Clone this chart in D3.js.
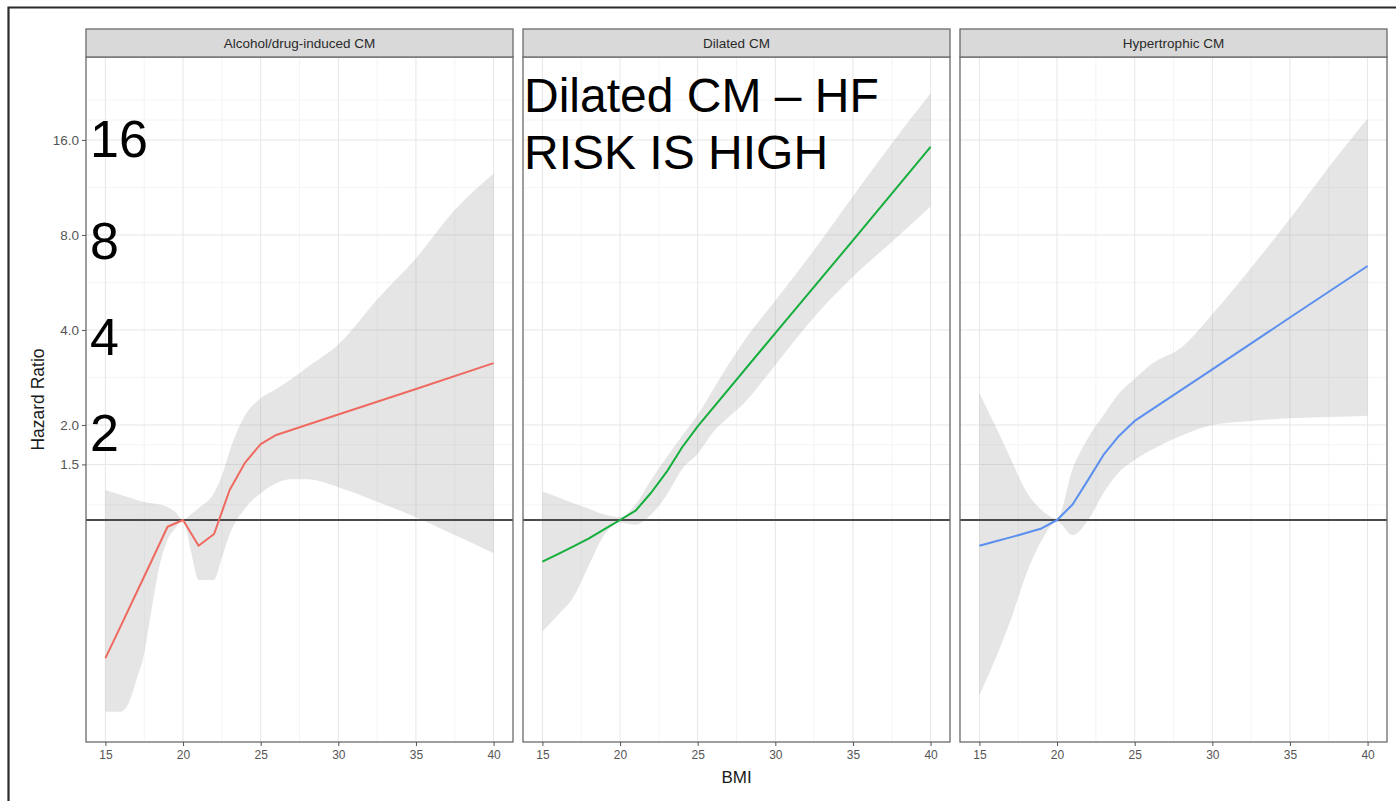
<!DOCTYPE html>
<html>
<head>
<meta charset="utf-8">
<script src="https://cdn.jsdelivr.net/npm/d3@7"></script>
<style>
  html, body { margin: 0; padding: 0; background: #fff; }
  svg { display: block; font-family: "Liberation Sans", Arial, Helvetica, sans-serif; }
</style>
</head>
<body>
<svg id="chart" width="1396" height="801"></svg>
<script>
// Facet titles and series colours
const panelTitles = ["Alcohol/drug-induced CM", "Dilated CM", "Hypertrophic CM"];
const panelColors = ["#EE6A60", "#14AE3C", "#5A8FEF"];

// Axis ticks
const bmiTicks = [15, 20, 25, 30, 35, 40];
const bmiMinorTicks = [17.5, 22.5, 27.5, 32.5, 37.5];
const hrTicks = [1.5, 2, 4, 8, 16];
const hrTickLabels = ["1.5", "2.0", "4.0", "8.0", "16.0"];
const hrMinorTicks = [1.116, 1.732, 2.83, 5.66, 11.3, 18.5, 21.4];
const hrReference = 1;

// Alcohol/drug-induced CM
const alcoholBmi = [15, 16, 17, 18, 19, 20, 21, 22, 23, 24, 25, 26, 30, 35, 40];
const alcoholHr  = [0.365, 0.463, 0.588, 0.747, 0.952, 1.0, 0.829, 0.903, 1.245, 1.52, 1.74, 1.86, 2.16, 2.6, 3.14];
const alcoholCiBmi   = [15, 16, 16.5, 17, 17.5, 18, 18.5, 19, 19.5, 20, 20.5, 21, 22, 22.5, 23, 24, 25, 26, 27, 28, 30, 32.5, 35, 37.5, 40];
const alcoholCiLower = [0.247, 0.247, 0.263, 0.311, 0.378, 0.53, 0.72, 0.864, 0.941, 1.0, 0.80, 0.646, 0.646, 0.76, 0.9, 1.09, 1.215, 1.307, 1.345, 1.345, 1.27, 1.143, 1.02, 0.896, 0.784];
const alcoholCiUpper = [1.245, 1.20, 1.18, 1.157, 1.14, 1.13, 1.12, 1.10, 1.06, 1.0, 1.04, 1.09, 1.22, 1.38, 1.65, 2.15, 2.43, 2.6, 2.8, 3.05, 3.6, 5.0, 6.75, 9.6, 12.5];

// Dilated CM
const dilatedBmi = [15, 16, 17, 18, 19, 20, 21, 22, 23, 24, 25, 30, 35, 40];
const dilatedHr  = [0.738, 0.78, 0.825, 0.875, 0.935, 1.0, 1.07, 1.22, 1.42, 1.70, 1.98, 3.91, 7.69, 15.2];
const dilatedCiBmi   = [15, 16, 17, 18, 19, 20, 21, 22, 23, 24, 25, 26, 27, 28, 30, 32.5, 35, 37.5, 40];
const dilatedCiLower = [0.443, 0.50, 0.57, 0.72, 0.9, 0.98, 0.965, 1.04, 1.2, 1.45, 1.62, 1.9, 2.12, 2.35, 3.1, 4.4, 5.9, 7.6, 9.84];
const dilatedCiUpper = [1.23, 1.18, 1.13, 1.086, 1.04, 1.02, 1.12, 1.34, 1.58, 1.85, 2.15, 2.59, 3.12, 3.7, 4.96, 7.17, 10.6, 15.6, 22.5];

// Hypertrophic CM
const hyperBmi = [15, 16, 17, 18, 19, 20, 21, 22, 23, 24, 25, 30, 35, 40];
const hyperHr  = [0.829, 0.855, 0.881, 0.909, 0.94, 1.0, 1.12, 1.34, 1.61, 1.85, 2.06, 3.0, 4.38, 6.38];
const hyperCiBmi   = [15, 16, 17, 18, 19, 20, 21, 22, 23, 24, 25, 26, 28, 30, 32.5, 35, 37.5, 40];
const hyperCiLower = [0.279, 0.36, 0.48, 0.67, 0.86, 0.99, 0.896, 1.0, 1.22, 1.42, 1.55, 1.66, 1.85, 2.0, 2.06, 2.1, 2.12, 2.14];
const hyperCiUpper = [2.52, 2.0, 1.57, 1.235, 1.076, 1.01, 1.45, 1.82, 2.15, 2.52, 2.8, 3.1, 3.52, 4.49, 6.3, 9.0, 13.1, 18.7];

// Overlay annotations
const hrCallouts = ["16", "8", "4", "2"];
const headline = ["Dilated CM \u2013 HF", "RISK IS HIGH"];

const series = [
  { bmi: alcoholBmi, hr: alcoholHr, ciBmi: alcoholCiBmi, lo: alcoholCiLower, hi: alcoholCiUpper },
  { bmi: dilatedBmi, hr: dilatedHr, ciBmi: dilatedCiBmi, lo: dilatedCiLower, hi: dilatedCiUpper },
  { bmi: hyperBmi,   hr: hyperHr,   ciBmi: hyperCiBmi,   lo: hyperCiLower,   hi: hyperCiUpper }
];

// Layout
const svg = d3.select("#chart");
const panelLeft = 86, panelW = 427, panelGap = 10;
const stripTop = 29, stripH = 28;
const panelTop = stripTop + stripH, panelBottom = 742;
const calloutShift = [17, 24, 25, 26];   // baseline drop below each tick

const x = d3.scaleLinear().domain([13.75, 41.25]);
const y = d3.scaleLog().base(2).domain([0.198, 29.3]).range([panelBottom, panelTop]);

// Outer frame
svg.append("path")
  .attr("d", "M8.5,801 L8.5,7.5 L1396,7.5")
  .attr("fill", "none").attr("stroke", "#2b2b2b").attr("stroke-width", 2.2);

const defs = svg.append("defs");

series.forEach((s, i) => {
  const x0 = panelLeft + i * (panelW + panelGap);
  const xs = x.copy().range([x0, x0 + panelW]);
  const g = svg.append("g");

  defs.append("clipPath").attr("id", "clip" + i)
    .append("rect").attr("x", x0).attr("y", panelTop).attr("width", panelW).attr("height", panelBottom - panelTop);

  // grid
  const grid = g.append("g");
  grid.selectAll(".vmin").data(bmiMinorTicks).join("line")
    .attr("x1", d => xs(d)).attr("x2", d => xs(d)).attr("y1", panelTop).attr("y2", panelBottom)
    .attr("stroke", "#f1f1f1").attr("stroke-width", 0.8);
  grid.selectAll(".hmin").data(hrMinorTicks).join("line")
    .attr("x1", x0).attr("x2", x0 + panelW).attr("y1", d => y(d)).attr("y2", d => y(d))
    .attr("stroke", "#f1f1f1").attr("stroke-width", 0.8);
  grid.selectAll(".vmaj").data(bmiTicks).join("line")
    .attr("x1", d => xs(d)).attr("x2", d => xs(d)).attr("y1", panelTop).attr("y2", panelBottom)
    .attr("stroke", "#e6e6e6").attr("stroke-width", 1);
  grid.selectAll(".hmaj").data(hrTicks).join("line")
    .attr("x1", x0).attr("x2", x0 + panelW).attr("y1", d => y(d)).attr("y2", d => y(d))
    .attr("stroke", "#e6e6e6").attr("stroke-width", 1);

  // confidence band
  const band = s.ciBmi.map((b, k) => ({ b, lo: s.lo[k], hi: s.hi[k] }));
  g.append("path").datum(band)
    .attr("clip-path", `url(#clip${i})`)
    .attr("fill", "#999999").attr("fill-opacity", 0.26)
    .attr("d", d3.area().curve(d3.curveMonotoneX)
      .x(d => xs(d.b)).y0(d => y(d.lo)).y1(d => y(d.hi)));

  // reference line at HR = 1
  g.append("line")
    .attr("x1", x0).attr("x2", x0 + panelW)
    .attr("y1", y(hrReference)).attr("y2", y(hrReference))
    .attr("stroke", "#4a4a4a").attr("stroke-width", 1.8);

  // fitted hazard ratio
  const pts = s.bmi.map((b, k) => ({ b, v: s.hr[k] }));
  g.append("path").datum(pts)
    .attr("fill", "none").attr("stroke", panelColors[i]).attr("stroke-width", 2)
    .attr("stroke-linejoin", "round")
    .attr("d", d3.line().x(d => xs(d.b)).y(d => y(d.v)));

  // panel border
  g.append("rect").attr("x", x0).attr("y", panelTop).attr("width", panelW).attr("height", panelBottom - panelTop)
    .attr("fill", "none").attr("stroke", "#6a6a6a").attr("stroke-width", 1.3);

  // strip
  g.append("rect").attr("x", x0).attr("y", stripTop).attr("width", panelW).attr("height", stripH)
    .attr("fill", "#d9d9d9").attr("stroke", "#6a6a6a").attr("stroke-width", 1.3);
  g.append("text").attr("x", x0 + panelW / 2).attr("y", stripTop + stripH / 2 + 4.5)
    .attr("text-anchor", "middle").attr("font-size", 13.5).attr("fill", "#2a2a2a")
    .text(panelTitles[i]);

  // x axis
  const xAxis = d3.axisBottom(xs).tickValues(bmiTicks).tickSize(4).tickPadding(4).tickFormat(d3.format("d"));
  const ax = g.append("g").attr("transform", `translate(0,${panelBottom})`).call(xAxis);
  ax.select(".domain").remove();
  ax.selectAll(".tick line").attr("stroke", "#555");
  ax.selectAll(".tick text").attr("font-size", 12).attr("fill", "#555").attr("font-family", null);
});

// y axis (left panel only)
const yAxis = d3.axisLeft(y).tickValues(hrTicks).tickSize(4).tickPadding(3)
  .tickFormat((d, k) => hrTickLabels[k]);
const ay = svg.append("g").attr("transform", `translate(${panelLeft},0)`).call(yAxis);
ay.select(".domain").remove();
ay.selectAll(".tick line").attr("stroke", "#555");
ay.selectAll(".tick text").attr("font-size", 13.5).attr("fill", "#555").attr("font-family", null);

// axis titles
svg.append("text")
  .attr("x", panelLeft + (3 * panelW + 2 * panelGap) / 2).attr("y", 783)
  .attr("text-anchor", "middle").attr("font-size", 17).attr("fill", "#1a1a1a").text("BMI");
svg.append("text")
  .attr("transform", `translate(44,${(panelTop + panelBottom) / 2}) rotate(-90)`)
  .attr("text-anchor", "middle").attr("font-size", 17.5).attr("fill", "#1a1a1a").text("Hazard Ratio");

// large value callouts next to the y ticks
svg.selectAll(".callout").data(hrCallouts).join("text")
  .attr("x", 90).attr("y", (d, k) => y(+d) + calloutShift[k])
  .attr("font-size", 52).attr("fill", "#000").text(d => d);

// headline in the Dilated CM panel
svg.append("text").attr("x", 524).attr("y", 112)
  .attr("font-size", 48).attr("fill", "#000")
  .selectAll("tspan").data(headline).join("tspan")
  .attr("x", 524).attr("dy", (d, k) => k === 0 ? 0 : 56.5).text(d => d);
</script>
</body>
</html>
